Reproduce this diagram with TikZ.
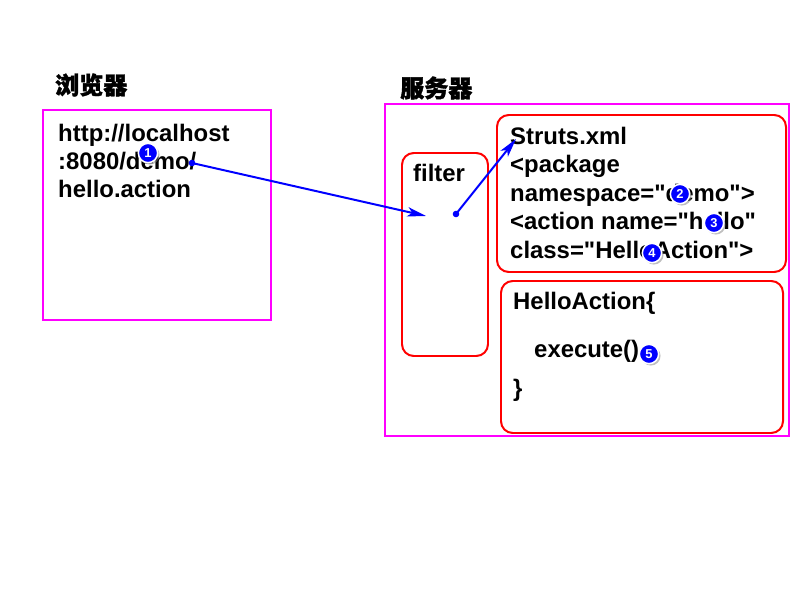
\documentclass[tikz,border=0pt]{standalone}
\usepackage{fontspec}
\setmainfont{Liberation Sans}[Ligatures=TeXOff]
\newfontfamily\cjk[FakeBold=1.5]{Noto Sans CJK SC}
\usetikzlibrary{arrows.meta,shadows}
\definecolor{mag}{RGB}{255,0,255}
\definecolor{rd}{RGB}{255,0,0}
\definecolor{bl}{RGB}{0,0,255}
\newcommand{\qq}{\symbol{34}}
\tikzset{
  txt/.style={anchor=base west, inner sep=0pt, font=\bfseries\fontsize{20.4}{24}\selectfont},
  cjklabel/.style={anchor=west, inner sep=0pt, font=\cjk\bfseries\fontsize{20.5}{24}\selectfont},
  frame/.style={draw=mag, line width=0.9pt},
  redbox/.style={draw=rd, line width=1.7pt, rounded corners=10pt},
  flow/.style={draw=bl, line width=1.7pt, -{Stealth[length=16pt,width=8pt,inset=4pt]}},
  dotmark/.style={fill=bl},
  num/.style={circle, fill=bl, draw=white, line width=1.3pt, minimum size=16.5pt, inner sep=0pt,
     text=white, font=\bfseries\fontsize{11}{11}\selectfont,
     drop shadow={shadow xshift=1.6pt, shadow yshift=-1.6pt, fill=black!50}}
}
\begin{document}
\begin{tikzpicture}[x=0.03cm,y=-0.03cm]
\useasboundingbox[fill=white] (0,0) rectangle (800,600);

% labels
\node[cjklabel] (lb) at (55,85) {浏览器};
\node[cjklabel] (ls) at (400,88) {服务器};

% frames
\draw[frame] (43,110) rectangle (271,320);
\draw[frame] (385,104) rectangle (789,436);

% red boxes
\draw[redbox] (402,153) rectangle (488,356);
\draw[redbox] (497,115) rectangle (786,272);
\draw[redbox] (501,281) rectangle (783,433);

% browser text
\node[txt] (u1) at (58,142) {http://localhost};
\node[txt] (u2) at (58,170) {:8080/demo/};
\node[txt] (u3) at (58,198) {hello.action};

% filter
\node[txt] (f) at (413,182) {filter};

% struts text
\node[txt] (s1) at (510,145) {Struts.xml};
\node[txt] (s2) at (510,173) {<package};
\node[txt] (s3) at (510,202) {namespace=\qq demo\qq >};
\node[txt] (s4) at (510,230) {<action name=\qq hello\qq};
\node[txt] (s5) at (510,259) {class=\qq HelloAction\qq >};

% action text
\node[txt] (a1) at (513,310) {HelloAction\{};
\node[txt] (a2) at (534,358) {execute()};
\node[txt] (a3) at (513,397) {\}};

% connectors
\coordinate (d1) at (192,163);
\coordinate (t1) at (426,216);
\coordinate (d2) at (456,214);
\coordinate (t2) at (516,139);
\fill[dotmark] (d1) circle (2.8pt);
\fill[dotmark] (d2) circle (2.8pt);
\draw[flow] (d1) -- (t1);
\draw[flow] (d2) -- (t2);

% numbered markers
\node[num] (n1) at (148,153) {1};
\node[num] (n2) at (680,194) {2};
\node[num] (n3) at (714,223) {3};
\node[num] (n4) at (652,253) {4};
\node[num] (n5) at (649,354) {5};
\end{tikzpicture}
\end{document}
